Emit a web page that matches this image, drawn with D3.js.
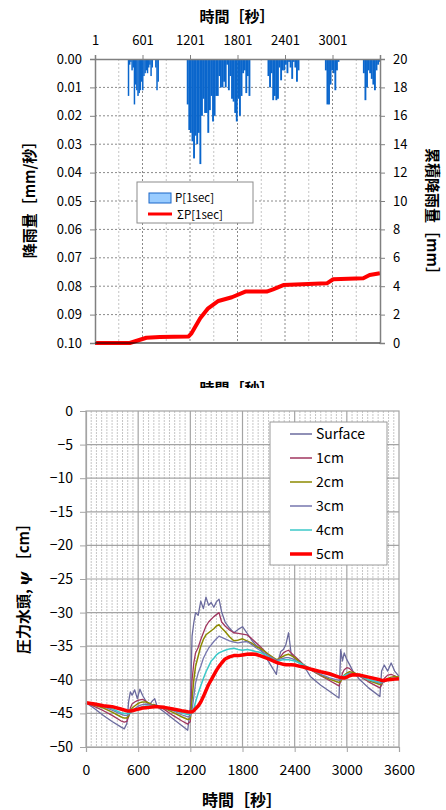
<!DOCTYPE html>
<html>
<head>
<meta charset="utf-8">
<script src="https://cdn.jsdelivr.net/npm/d3@7"></script>
<style>
  body { margin: 0; background: #fff; }
  text { font-family: "Noto Sans CJK JP", "Noto Sans", sans-serif; fill: #000; }
</style>
</head>
<body>
<div id="chart"></div>
<script>
// ---- top chart data: rain rate [mm/s] and cumulative rain [mm]
const topTicks = [1, 601, 1201, 1801, 2401, 3001];
const rainStart = [415, 1160, 2180, 2905, 3385];
const rainStep = [15, 20, 20, 20, 20];
const rainValues = [
  [0.013, 0.002, 0.001, 0.004, 0.003, 0.016, 0.009, 0.011, 0.013, 0.012, 0.011, 0.008, 0.011,
   0.006, 0.005, 0.004, 0.005, 0.003, 0.002, 0.006, 0.003, 0, 0, 0.003, 0.011, 0.008],
  [0.016, 0.025, 0.026, 0.029, 0.035, 0.027, 0.030, 0.026, 0.037, 0.020, 0.014, 0.019, 0.019,
   0.026, 0.018, 0.013, 0.022, 0.020, 0.013, 0.013, 0.006, 0.010, 0.010, 0.008, 0.010, 0.002,
   0.011, 0.006, 0.014, 0.015, 0.019, 0.022, 0.014, 0.020, 0.013, 0.005, 0.004, 0.012, 0.006, 0.013],
  [0.006, 0.010, 0.005, 0.0145, 0.013, 0.0145, 0.014, 0.003, 0.0075, 0.004, 0.004, 0.002, 0.005,
   0.001, 0.003, 0.007, 0.001, 0.003, 0.008, 0.004],
  [0.004, 0.016, 0.016, 0.009, 0.004, 0.005, 0.011, 0.004, 0.001],
  [0.005, 0.0145, 0.010, 0.004, 0.005, 0.007, 0.009, 0.011, 0.004, 0.002, 0.001]
];
const cumTimes = [0, 440, 530, 650, 820, 1180, 1220, 1330, 1430, 1560, 1730, 1900, 2170, 2250, 2380, 2930, 3010, 3390, 3470, 3600];
const cumRain = [0, 0, 0.16, 0.37, 0.42, 0.45, 0.68, 1.74, 2.44, 2.96, 3.22, 3.62, 3.62, 3.78, 4.08, 4.2, 4.49, 4.56, 4.79, 4.91];

// ---- bottom chart data: pressure head [cm]
const psiNames = ["Surface", "1cm", "2cm", "3cm", "4cm", "5cm"];
const psiTimes = [0, 100, 200, 300, 400, 440, 470, 490, 510, 530,
  560, 590, 620, 650, 690, 730, 760, 790, 820, 900,
  1000, 1100, 1170, 1200, 1220, 1240, 1260, 1290, 1320, 1350,
  1380, 1410, 1440, 1470, 1500, 1530, 1560, 1600, 1650, 1700,
  1750, 1800, 1850, 1900, 1950, 2000, 2100, 2190, 2210, 2240,
  2270, 2300, 2330, 2360, 2400, 2460, 2500, 2580, 2700, 2800,
  2910, 2930, 2950, 2970, 3000, 3030, 3070, 3150, 3250, 3380,
  3400, 3430, 3470, 3510, 3550, 3600];
const psiSurface = [-43.4, -44.3, -45.3, -46.2, -47.0, -47.3, -46.5, -43.3, -41.8, -42.3,
  -41.5, -42.8, -41.4, -42.3, -43.2, -43.7, -43.2, -42.8, -44.0, -44.8,
  -45.8, -46.8, -47.5, -44.0, -33.5, -31.5, -30.0, -30.4, -28.3, -29.4,
  -27.7, -28.9, -28.5, -29.2, -28.4, -28.0, -29.9, -31.4, -32.3, -33.0,
  -32.5, -32.1, -33.0, -34.0, -34.8, -35.3, -37.3, -39.2, -37.2, -35.8,
  -35.5, -34.7, -33.0, -36.2, -36.8, -37.3, -37.8, -39.5, -40.8, -41.7,
  -42.7, -35.5, -37.2, -36.0, -37.0, -37.7, -38.7, -40.0, -41.2, -42.5,
  -38.7, -37.8, -38.7, -37.5, -38.7, -39.5];
const psi1cm = [-43.4, -44.0, -44.6, -45.3, -46.1, -46.3, -46.2, -45.5, -44.2, -43.6,
  -43.3, -43.1, -43.0, -42.9, -43.2, -43.6, -43.7, -43.7, -43.9, -44.4,
  -45.3, -46.1, -46.6, -46.2, -40.0, -37.5, -36.0, -35.2, -34.0, -33.0,
  -32.0, -31.4, -31.0, -30.6, -30.3, -30.0, -31.4, -32.0, -32.6, -33.0,
  -33.1, -33.2, -33.3, -33.8, -34.4, -35.0, -36.3, -37.4, -37.0, -36.5,
  -36.0, -35.75, -35.6, -36.0, -36.5, -37.2, -37.7, -38.5, -39.4, -40.1,
  -40.9, -40.2, -39.0, -38.5, -38.2, -38.3, -38.8, -39.5, -40.3, -41.2,
  -40.8, -39.8, -39.3, -39.2, -39.4, -39.8];
const psi2cm = [-43.4, -43.8, -44.2, -44.8, -45.5, -45.7, -45.7, -45.4, -44.8, -44.2,
  -43.9, -43.6, -43.4, -43.3, -43.3, -43.5, -43.7, -43.8, -43.9, -44.2,
  -44.85, -45.5, -45.9, -45.8, -43.0, -40.0, -38.0, -36.5, -35.0, -34.0,
  -33.3, -33.0, -32.7, -32.4, -32.0, -31.8, -32.3, -32.8, -33.6, -34.2,
  -34.1, -33.9, -34.2, -34.5, -35.0, -35.3, -36.2, -37.0, -36.9, -36.7,
  -36.5, -36.3, -36.2, -36.4, -36.7, -37.4, -37.8, -38.4, -39.3, -39.9,
  -40.4, -40.2, -39.7, -39.3, -39.0, -38.8, -38.9, -39.3, -40.1, -40.7,
  -40.6, -40.2, -39.8, -39.6, -39.5, -39.6];
const psi3cm = [-43.4, -43.7, -44.0, -44.5, -45.1, -45.3, -45.3, -45.2, -44.9, -44.6,
  -44.3, -44.0, -43.8, -43.7, -43.6, -43.7, -43.8, -43.9, -44.0, -44.2,
  -44.6, -45.2, -45.5, -45.4, -44.5, -42.5, -40.5, -39.0, -38.0, -36.8,
  -36.0, -35.3, -34.8, -34.3, -33.9, -33.5, -33.7, -33.9, -34.2, -34.4,
  -34.5, -34.4, -34.3, -34.7, -35.2, -35.6, -36.4, -37.1, -37.0, -36.9,
  -36.8, -36.7, -36.7, -36.8, -37.0, -37.6, -37.9, -38.4, -39.2, -39.7,
  -40.1, -40.0, -39.8, -39.5, -39.2, -39.0, -39.1, -39.4, -40.0, -40.5,
  -40.5, -40.3, -40.0, -39.8, -39.7, -39.7];
const psi4cm = [-43.4, -43.6, -43.9, -44.3, -44.9, -45.0, -45.0, -45.0, -44.9, -44.7,
  -44.5, -44.3, -44.1, -44.0, -43.9, -43.9, -43.9, -44.0, -44.0, -44.2,
  -44.5, -44.9, -45.15, -45.1, -44.9, -44.3, -43.3, -42.0, -40.9, -39.8,
  -38.8, -38.0, -37.2, -36.8, -36.3, -36.0, -35.8, -35.6, -35.4, -35.3,
  -35.5, -35.6, -35.5, -35.6, -35.8, -35.9, -36.6, -37.25, -37.2, -37.1,
  -37.0, -37.0, -37.0, -37.1, -37.2, -37.5, -37.8, -38.3, -38.9, -39.3,
  -39.7, -39.7, -39.5, -39.4, -39.2, -39.15, -39.3, -39.4, -40.0, -40.35,
  -40.3, -40.2, -40.0, -39.9, -39.8, -39.75];
const psi5cm = [-43.4, -43.6, -43.85, -44.0, -44.35, -44.5, -44.6, -44.65, -44.65, -44.6,
  -44.5, -44.4, -44.3, -44.2, -44.15, -44.1, -44.05, -44.0, -44.0, -44.1,
  -44.35, -44.6, -44.75, -44.8, -44.75, -44.6, -44.3, -43.9, -43.3, -42.5,
  -41.6, -40.7, -40.0, -39.3, -38.6, -38.0, -37.5, -36.9, -36.6, -36.4,
  -36.4, -36.3, -36.2, -36.15, -36.2, -36.4, -36.9, -37.4, -37.5, -37.6,
  -37.7, -37.75, -37.75, -37.75, -37.8, -38.0, -38.1, -38.4, -38.8, -39.1,
  -39.6, -39.65, -39.7, -39.75, -39.6, -39.4, -39.25, -39.3, -39.6, -40.0,
  -40.1, -40.1, -40.0, -39.95, -39.9, -39.85];
const psiSeries = [psiSurface, psi1cm, psi2cm, psi3cm, psi4cm, psi5cm];
const psiColors = ["#6b6b9e", "#a0365f", "#8c8a00", "#7676ae", "#3cc8c8", "#ff0000"];
const psiWidths = [1.3, 1.3, 1.5, 1.3, 1.5, 3.5];

const W = 446, H = 810;
const svg = d3.select("#chart").append("svg")
  .attr("width", W)
  .attr("height", H);

// =================== top chart ===================
const topG = svg.append("g");
const tx = d3.scaleLinear().domain([1, 3601]).range([95, 380]);
const ry = d3.scaleLinear().domain([0, 0.1]).range([59, 343]);
const cy = d3.scaleLinear().domain([0, 20]).range([343, 59]);

// grid
d3.range(301, 3601, 300).forEach(t => {
  topG.append("line")
    .attr("x1", tx(t)).attr("x2", tx(t))
    .attr("y1", 59).attr("y2", 343)
    .attr("stroke", (t - 1) % 600 === 0 ? "#8a8a8a" : "#c4c4c4")
    .attr("stroke-width", 1)
    .attr("stroke-dasharray", "2,2");
});
d3.range(1, 10).forEach(i => {
  topG.append("line")
    .attr("x1", 95).attr("x2", 380)
    .attr("y1", ry(i / 100)).attr("y2", ry(i / 100))
    .attr("stroke", "#8a8a8a")
    .attr("stroke-dasharray", "2,2");
});

// rain bars
rainValues.forEach((vals, k) => {
  vals.forEach((p, i) => {
    const t = rainStart[k] + i * rainStep[k];
    topG.append("rect")
      .attr("x", tx(t))
      .attr("y", ry(0))
      .attr("width", tx(t + rainStep[k]) - tx(t) + 0.3)
      .attr("height", ry(p) - ry(0))
      .attr("fill", "#0a66cc");
  });
});

// cumulative rain
topG.append("path")
  .datum(cumTimes.map((t, i) => [t, cumRain[i]]))
  .attr("fill", "none")
  .attr("stroke", "#ff0000")
  .attr("stroke-width", 4)
  .attr("stroke-linejoin", "round")
  .attr("d", d3.line().x(d => tx(Math.max(d[0], 1))).y(d => cy(d[1])));

// axes
const lAxis = topG.append("g")
  .attr("transform", "translate(95,0)")
  .call(d3.axisLeft(ry).tickValues(d3.range(0, 11).map(i => i / 100)).tickFormat(d3.format(".2f")).tickSize(5).tickPadding(8));
const rAxis = topG.append("g")
  .attr("transform", "translate(380,0)")
  .call(d3.axisRight(cy).tickValues(d3.range(0, 21, 2)).tickSize(5).tickPadding(8));
const tAxis = topG.append("g")
  .attr("transform", "translate(0,59)")
  .call(d3.axisTop(tx).tickValues(topTicks).tickFormat(d3.format("d")).tickSize(4).tickPadding(10));
topG.append("line")
  .attr("x1", 95).attr("x2", 380).attr("y1", 343).attr("y2", 343)
  .attr("stroke", "#000").attr("stroke-width", 1.2);
[lAxis, rAxis, tAxis].forEach(a => {
  a.selectAll("path").attr("stroke", "#808080").attr("stroke-width", 1.5);
  a.selectAll("line").attr("stroke", "#808080");
  a.selectAll("text").style("font-size", "13px").attr("fill", "#000");
});

// titles
topG.append("text")
  .attr("x", 237).attr("y", 22)
  .attr("text-anchor", "middle")
  .style("font-size", "15px").style("font-weight", "bold")
  .text("時間［秒］");
topG.append("text")
  .attr("x", 237).attr("y", 394)
  .attr("text-anchor", "middle")
  .style("font-size", "15px").style("font-weight", "bold")
  .text("時間［秒］");
topG.append("text")
  .attr("transform", "translate(35,196) rotate(-90)")
  .attr("text-anchor", "middle")
  .style("font-size", "15px").style("font-weight", "bold")
  .text("降雨量［mm/秒］");
topG.append("text")
  .attr("transform", "translate(427,215) rotate(90)")
  .attr("text-anchor", "middle")
  .style("font-size", "15px").style("font-weight", "bold")
  .text("累積降雨量［mm］");

// legend
const lg = topG.append("g");
lg.append("rect")
  .attr("x", 137).attr("y", 182).attr("width", 116).attr("height", 41)
  .attr("fill", "#fff").attr("stroke", "#8c8c8c");
lg.append("rect")
  .attr("x", 149).attr("y", 193).attr("width", 22).attr("height", 10)
  .attr("fill", "#99ccff").attr("stroke", "#1a66c8");
lg.append("text")
  .attr("x", 175).attr("y", 198).attr("dy", "0.35em")
  .style("font-size", "11.5px").text("P[1sec]");
lg.append("line")
  .attr("x1", 148).attr("x2", 172).attr("y1", 214).attr("y2", 214)
  .attr("stroke", "#ff0000").attr("stroke-width", 3);
lg.append("text")
  .attr("x", 177).attr("y", 215).attr("dy", "0.35em")
  .style("font-size", "11.5px").text("ΣP[1sec]");

// =================== bottom chart ===================
const bot = svg.append("g");
bot.append("rect")
  .attr("x", 0).attr("y", 388).attr("width", W).attr("height", H - 388)
  .attr("fill", "#fff");

const px = d3.scaleLinear().domain([0, 3600]).range([86, 399]);
const py = d3.scaleLinear().domain([-50, 0]).range([747, 411]);

// minor vertical grid
d3.range(60, 3600, 60).filter(t => t % 600 !== 0).forEach(t => {
  bot.append("line")
    .attr("x1", px(t)).attr("x2", px(t))
    .attr("y1", py(0)).attr("y2", py(-50))
    .attr("stroke", "#c6c6c6")
    .attr("stroke-dasharray", "2,1");
});
// major grid
d3.range(600, 3600, 600).forEach(t => {
  bot.append("line")
    .attr("x1", px(t)).attr("x2", px(t))
    .attr("y1", py(0)).attr("y2", py(-50))
    .attr("stroke", "#a4a4a4").attr("stroke-width", 1.2);
});
d3.range(-45, 0, 5).forEach(v => {
  bot.append("line")
    .attr("x1", px(0)).attr("x2", px(3600))
    .attr("y1", py(v)).attr("y2", py(v))
    .attr("stroke", "#a4a4a4").attr("stroke-width", 1.2);
});
bot.append("rect")
  .attr("x", px(0)).attr("y", py(0))
  .attr("width", px(3600) - px(0)).attr("height", py(-50) - py(0))
  .attr("fill", "none").attr("stroke", "#a4a4a4").attr("stroke-width", 1.2);

// series
const psiLine = d3.line()
  .x((d, i) => px(psiTimes[i]))
  .y(d => py(d));
psiSeries.forEach((vals, k) => {
  bot.append("path")
    .datum(vals)
    .attr("fill", "none")
    .attr("stroke", psiColors[k])
    .attr("stroke-width", psiWidths[k])
    .attr("stroke-linejoin", "round")
    .attr("d", psiLine);
});

// axes
const yAxis = bot.append("g")
  .attr("transform", `translate(${px(0)},0)`)
  .call(d3.axisLeft(py).tickValues(d3.range(-50, 1, 5))
    .tickFormat(d => d === 0 ? "0" : "\u2212" + Math.abs(d)).tickSize(6).tickPadding(7));
const xAxis = bot.append("g")
  .attr("transform", `translate(0,${py(-50)})`)
  .call(d3.axisBottom(px).tickValues(d3.range(0, 3601, 600)).tickFormat(d3.format("d")).tickSize(5).tickPadding(13));
[yAxis, xAxis].forEach(a => {
  a.select(".domain").attr("stroke", "#a4a4a4").attr("stroke-width", 1.2);
  a.selectAll("line").attr("stroke", "#a4a4a4");
  a.selectAll("text").style("font-size", "14px").attr("fill", "#000");
});

bot.append("text")
  .attr("x", 242).attr("y", 806)
  .attr("text-anchor", "middle")
  .style("font-size", "16px").style("font-weight", "bold")
  .text("時間［秒］");
const yl = bot.append("text")
  .attr("transform", "translate(29,585) rotate(-90)")
  .attr("text-anchor", "middle")
  .style("font-size", "15px").style("font-weight", "bold");
yl.append("tspan").text("圧力水頭, ");
yl.append("tspan")
  .style("font-family", "'DejaVu Serif', serif")
  .style("font-style", "italic")
  .text("ψ");
yl.append("tspan").text(" ［cm］");

// legend
const lg2 = bot.append("g");
lg2.append("rect")
  .attr("x", 270).attr("y", 422).attr("width", 117).attr("height", 143)
  .attr("fill", "#fff").attr("stroke", "#9a9a9a");
psiNames.forEach((name, i) => {
  const y = 434 + i * 24;
  lg2.append("line")
    .attr("x1", 290).attr("x2", 312).attr("y1", y).attr("y2", y)
    .attr("stroke", psiColors[i])
    .attr("stroke-width", i === 5 ? 3.5 : 1.5);
  lg2.append("text")
    .attr("x", 316).attr("y", y).attr("dy", "0.35em")
    .style("font-size", "14px")
    .text(name);
});
</script>
</body>
</html>
